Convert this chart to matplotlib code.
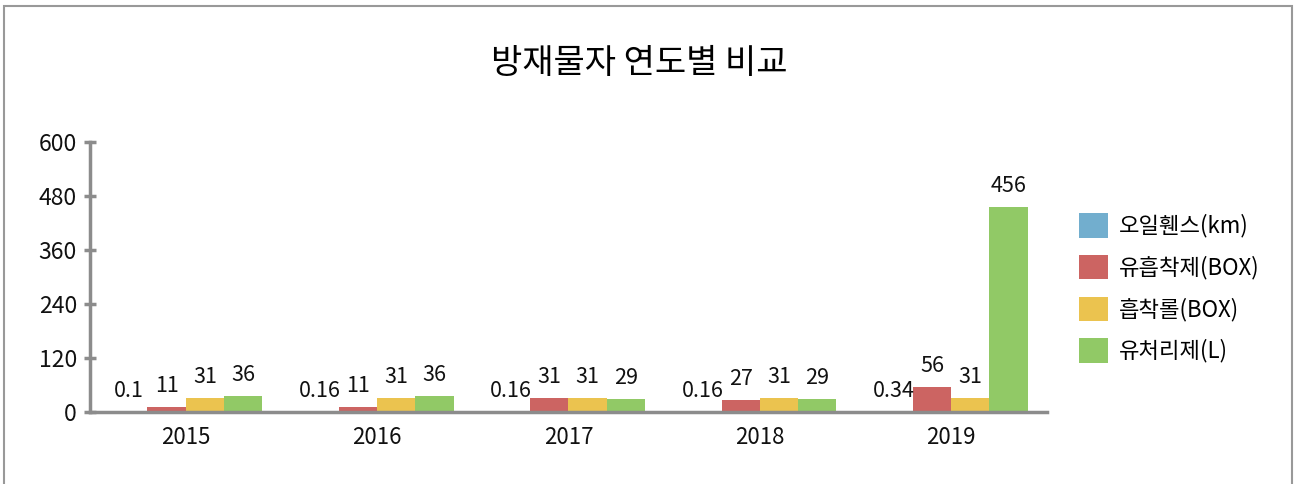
import numpy as np
import matplotlib.pyplot as plt
from matplotlib.patches import Rectangle

plt.rcParams['font.family'] = ['Noto Sans CJK KR', 'DejaVu Sans']

# --------------------------------------------------
# Data
# --------------------------------------------------
years = ['2015', '2016', '2017', '2018', '2019']
series = ['오일휀스(km)', '유흡착제(BOX)', '흡착롤(BOX)', '유처리제(L)']

oil_fence = [0.1, 0.16, 0.16, 0.16, 0.34]
absorbent = [11, 11, 31, 27, 56]
roll = [31, 31, 31, 31, 31]
dispersant = [36, 36, 29, 29, 456]

values = [oil_fence, absorbent, roll, dispersant]
labels = [
    ['0.1', '0.16', '0.16', '0.16', '0.34'],
    ['11', '11', '31', '27', '56'],
    ['31', '31', '31', '31', '31'],
    ['36', '36', '29', '29', '456'],
]
colors = ['#72AECE', '#CC6462', '#EBC34F', '#91C966']

fig = plt.figure(figsize=(12.94, 4.84), dpi=100)
ax = fig.add_axes([0.0696, 0.149, 0.7394, 0.558])

# --------------------------------------------------
# Bars
# --------------------------------------------------
x = np.arange(len(years))
width = 0.2
for i, (vals, lab, col, name) in enumerate(zip(values, labels, colors, series)):
    pos = x + (i - 1.5) * width
    ax.bar(pos, vals, width, color=col, label=name, zorder=2)
    for px, v, t in zip(pos, vals, lab):
        ax.annotate(t, xy=(px, v), xytext=(0, 7), textcoords='offset points',
                    ha='center', va='bottom', fontsize=15.5, color='#111111')

ax.set_xlim(-0.5, len(years) - 0.5)
ax.set_ylim(0, 600)
ax.set_yticks(np.arange(0, 601, 120))
ax.set_xticks(x)
ax.set_xticklabels(years)

# --------------------------------------------------
# Axes style
# --------------------------------------------------
grey = '#8C8C8C'
for s in ['top', 'right']:
    ax.spines[s].set_visible(False)
for s in ['left', 'bottom']:
    ax.spines[s].set_color(grey)
    ax.spines[s].set_linewidth(2.5)
ax.tick_params(axis='y', direction='inout', length=9, width=2.5, color=grey,
               labelsize=16.5, pad=5, labelcolor='#111111')
ax.tick_params(axis='x', length=0, labelsize=16, pad=10, labelcolor='#111111')

# --------------------------------------------------
# Title, legend, frame
# --------------------------------------------------
fig.text(0.494, 0.868, '방재물자 연도별 비교', ha='center', va='center', fontsize=24.5)

ax.legend(loc='center left', bbox_to_anchor=(1.013, 0.4585), frameon=False,
          fontsize=16, handlelength=1.3, handleheight=1.3, handletextpad=0.5,
          labelspacing=0.77)

fig.patches.append(Rectangle((4 / 1294, -0.1), 1288 / 1294, 1.1 - 6 / 484,
                             transform=fig.transFigure, fill=False,
                             edgecolor='#999999', linewidth=1.5))

fig.savefig('out.png', dpi=100)
